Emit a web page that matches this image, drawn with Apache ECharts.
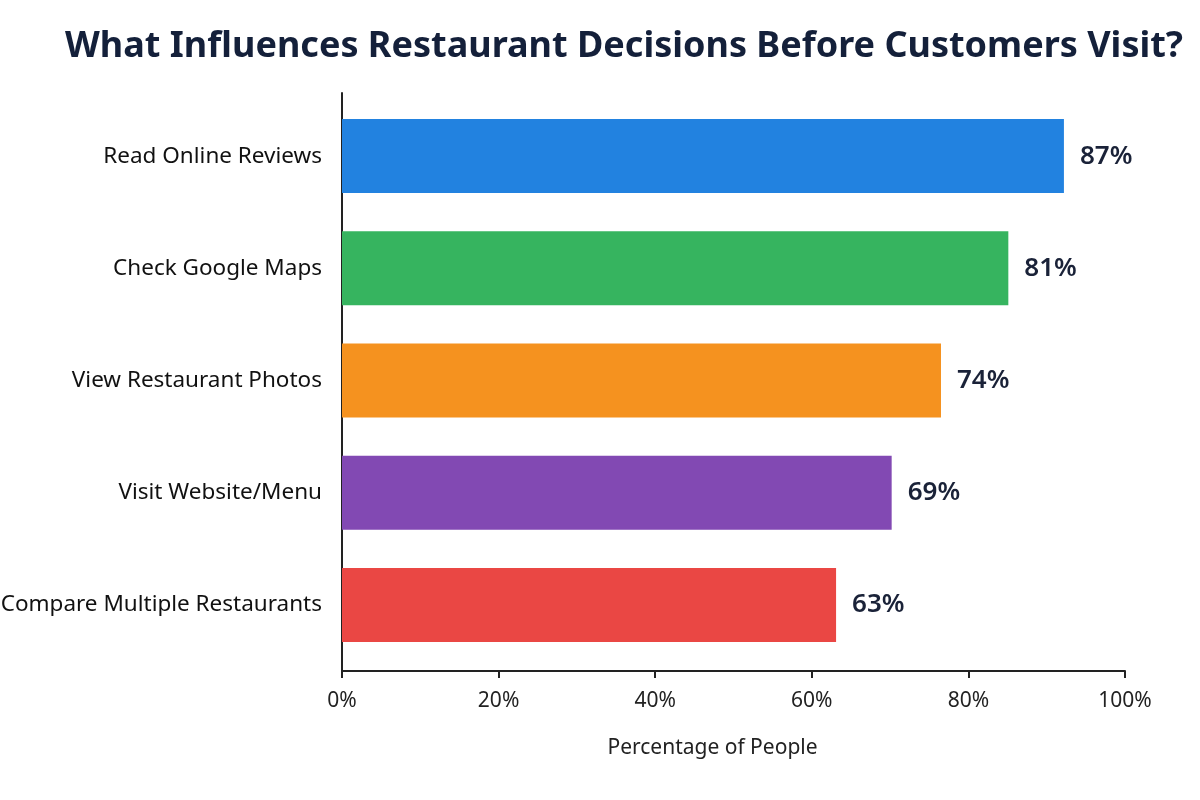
<!DOCTYPE html>
<html>
<head>
<meta charset="utf-8">
<script src="https://cdn.jsdelivr.net/npm/echarts@6/dist/echarts.min.js"></script>
<style>
  html, body { margin: 0; padding: 0; background: #fff; }
  #main { width: 1200px; height: 800px; }
</style>
</head>
<body>
<div id="main"></div>
<script>
const titleText = 'What Influences Restaurant Decisions Before Customers Visit?'
const categories = ['Read Online Reviews', 'Check Google Maps', 'View Restaurant Photos', 'Visit Website/Menu', 'Compare Multiple Restaurants']
// bar lengths as drawn in the picture (percent of axis)
const barLengths = [92.2, 85.1, 76.5, 70.2, 63.1]
// percentages printed next to each bar
const printedPercents = ['87%', '81%', '74%', '69%', '63%']
const barColors = ['#2282E0', '#36B45F', '#F5921F', '#8249B3', '#EA4744']
const xTicks = [0, 20, 40, 60, 80, 100]

const myChart = echarts.init(document.getElementById('main'))
const font = '"Noto Sans", "Open Sans", sans-serif'

const option = {
  backgroundColor: '#fff',
  animation: false,
  title: {
    text: titleText,
    left: 60,
    top: 24,
    textStyle: { fontFamily: font, fontSize: 36, fontWeight: 'bold', color: '#14203A' }
  },
  grid: [
    // bars
    { left: 342, right: 75, top: 100, height: 561, outerBoundsMode: 'none', containLabel: false },
    // axes frame
    { left: 342, right: 75, top: 93, bottom: 129, outerBoundsMode: 'none', containLabel: false }
  ],
  xAxis: [
    { gridIndex: 0, type: 'value', min: 0, max: 100, show: false },
    {
      gridIndex: 1, type: 'value', min: xTicks[0], max: xTicks[xTicks.length - 1], interval: 20,
      name: 'Percentage of People',
      nameLocation: 'middle',
      nameGap: 67,
      nameTextStyle: { fontFamily: font, fontSize: 21, color: '#222', padding: [0, 42, 0, 0] },
      axisLine: { show: true, lineStyle: { color: '#222', width: 2 } },
      axisTick: { show: true, length: 7, lineStyle: { color: '#222', width: 2 } },
      axisLabel: { formatter: '{value}%', fontFamily: font, fontSize: 21, color: '#222', margin: 20 },
      splitLine: { show: false }
    }
  ],
  yAxis: [
    {
      gridIndex: 0, type: 'category', data: categories, inverse: true,
      axisLine: { show: false },
      axisTick: { show: false },
      axisLabel: { fontFamily: font, fontSize: 22.5, color: '#111', margin: 20 }
    },
    {
      gridIndex: 1, type: 'value', min: 0, max: 1,
      axisLine: { show: true, lineStyle: { color: '#222', width: 2 } },
      axisTick: { show: false },
      axisLabel: { show: false },
      splitLine: { show: false }
    }
  ],
  series: [
    {
      type: 'bar',
      xAxisIndex: 0,
      yAxisIndex: 0,
      barWidth: 74,
      data: barLengths.map((v, i) => ({ value: v, itemStyle: { color: barColors[i] } })),
      label: {
        show: true,
        position: 'right',
        distance: 16,
        formatter: p => printedPercents[p.dataIndex],
        fontFamily: font,
        fontSize: 26,
        fontWeight: 600,
        color: '#1A2238'
      }
    }
  ]
}

myChart.setOption(option)
</script>
</body>
</html>
